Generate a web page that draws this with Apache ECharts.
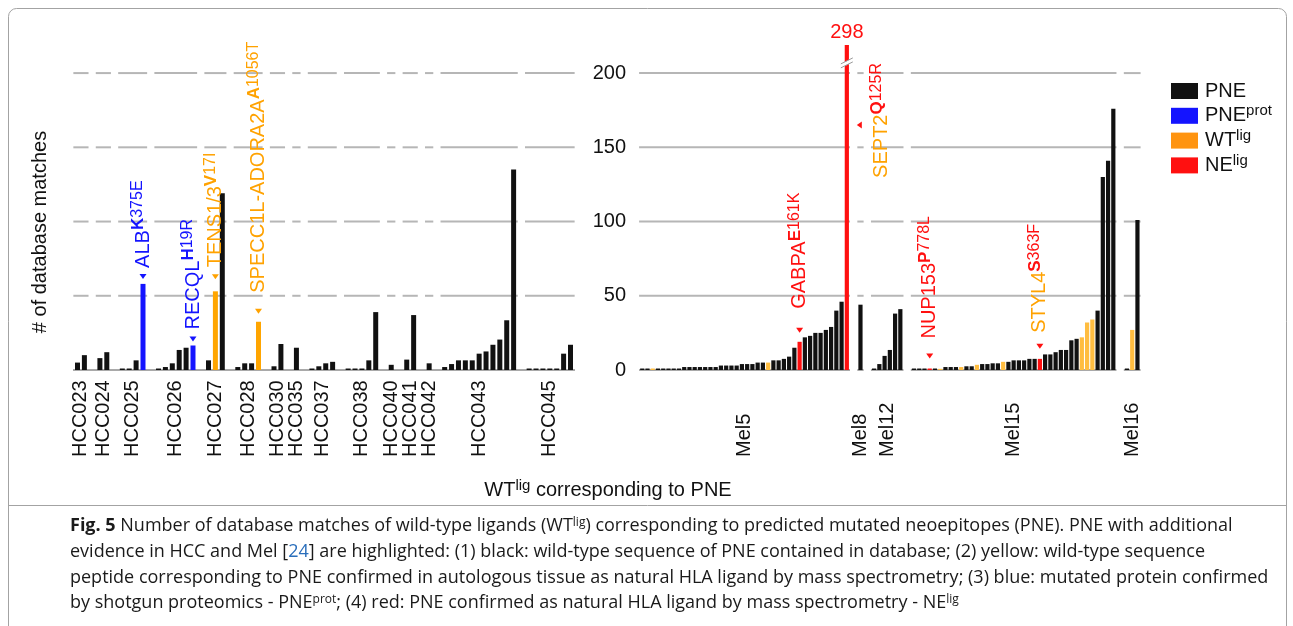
<!DOCTYPE html>
<html>
<head>
<meta charset="utf-8">
<title>Fig. 5</title>
<script src="https://cdn.jsdelivr.net/npm/echarts@6/dist/echarts.min.js"></script>
<style>
  html, body { margin: 0; padding: 0; background: #fff; }
  #chart { width: 1293px; height: 626px; }
</style>
</head>
<body>
<div id="chart"></div>
<script>
// ---- data ----
var yTicks = [0, 50, 100, 150, 200];

var hccNames = ['HCC023', 'HCC024', 'HCC025', 'HCC026', 'HCC027', 'HCC028', 'HCC030', 'HCC035',
  'HCC037', 'HCC038', 'HCC040', 'HCC041', 'HCC042', 'HCC043', 'HCC045'];
var hccValues = [
  [5, 10],
  [8, 12],
  [1, 1, 6.5, 58],
  [1, 2, 4.5, 13.5, 15, 16.5],
  [6.5, 53, 119],
  [2, 4.5, 4.5, 32.5],
  [2.5, 17.5],
  [15],
  [1, 2.5, 4.5, 5.5],
  [1, 1, 1, 6.5, 39],
  [3.5],
  [7, 37],
  [4.5],
  [2, 4, 6.5, 6.5, 6.5, 11, 12.5, 17, 20.5, 33.5, 135],
  [1, 1, 1, 1, 1, 11, 17]
];
// highlighted bars (index in group -> B: PNEprot, W: WTlig, N: NElig), the rest are PNE
var hccMarks = [{}, {}, {3: 'B'}, {5: 'B'}, {1: 'W'}, {3: 'W'}, {}, {}, {}, {}, {}, {}, {}, {}, {}];

var melNames = ['Mel5', 'Mel8', 'Mel12', 'Mel15', 'Mel16'];
var melValues = [
  [1, 1, 1, 1, 1, 1, 1, 1, 2, 2, 2, 2, 2, 2, 2, 3, 3, 3, 3, 4, 4, 4, 5, 5, 5,
    6.5, 6.5, 7.5, 9, 15, 19, 22, 23, 25, 25, 27, 29, 40, 46, 298],
  [44],
  [1, 4, 9.5, 13.5, 38, 41],
  [1, 1, 1, 1, 1, 0.8, 2, 2, 2, 2, 2.5, 2.5, 3.5, 4, 4, 4.5, 4.5, 5.5, 5.5,
    6.5, 6.5, 6.5, 7.5, 7.5, 7.5, 10.5, 10.5, 12, 13.5, 13.5, 20, 21, 22, 32, 34, 40, 130, 141, 176],
  [1, 27, 101]
];
var melMarks = [
  {2: 'W', 24: 'W', 30: 'N', 39: 'N'},
  {},
  {},
  {3: 'N', 5: 'W', 9: 'W', 12: 'W', 17: 'W', 24: 'N', 32: 'W', 33: 'W', 34: 'W'},
  {1: 'W'}
];

// labelled mutations
var notes = [
  {group: 'HCC025', index: 3, gene: 'ALB', mut: 'K375E', geneKind: 'B', mutKind: 'B'},
  {group: 'HCC026', index: 5, gene: 'RECQL', mut: 'H19R', geneKind: 'B', mutKind: 'B'},
  {group: 'HCC027', index: 1, gene: 'TENS1/3', mut: 'V17I', geneKind: 'W', mutKind: 'W'},
  {group: 'HCC028', index: 3, gene: 'SPECC1L-ADORA2A', mut: 'A1056T', geneKind: 'W', mutKind: 'W'},
  {group: 'Mel5', index: 30, gene: 'GABPA', mut: 'E161K', geneKind: 'N', mutKind: 'N'},
  {group: 'Mel5', index: 39, gene: 'SEPT2', mut: 'Q125R', geneKind: 'W', mutKind: 'N'},
  {group: 'Mel15', index: 3, gene: 'NUP153', mut: 'P778L', geneKind: 'N', mutKind: 'N'},
  {group: 'Mel15', index: 24, gene: 'STYL4', mut: 'S363F', geneKind: 'W', mutKind: 'N'}
];

var legendNames = ['PNE', 'PNEprot', 'WTlig', 'NElig'];
var legendLabels = {PNE: '{n|PNE}', PNEprot: '{n|PNE}{s|prot}', WTlig: '{n|WT}{s|lig}', NElig: '{n|NE}{s|lig}'};

// ---- style / layout ----
var FONT = '"Liberation Sans", Arial, sans-serif';
var CAPTION_FONT = '"Open Sans", "Noto Sans", sans-serif';
var yCap = 219;               // taller bars are broken here
var hccGap = 2.25, melGap = 2.6;
var textColors = {B: '#1414ff', W: '#ffa200', N: '#ff1010'};
var hccColors = {P: '#111111', B: '#1414ff', W: '#ffa500', N: '#ff1010'};
var melColors = {P: '#111111', B: '#1414ff', W: '#ffbd40', N: '#ff1010'};
var legendColors = ['#111111', '#1414ff', '#ff9410', '#ff1010'];
var gridColor = '#b6b6b6', baseColor = '#a9a9a9';
// px from bar top: where label text starts, where arrow tip sits
var noteLayout = {
  'ALB': {lift: 16, tip: 5},
  'RECQL': {lift: 16, tip: 4},
  'TENS1/3': {lift: 24, tip: 12},
  'SPECC1L-ADORA2A': {lift: 29, tip: 8},
  'GABPA': {lift: 33, tip: 9},
  'SEPT2': {side: true, dx: 35, dy: 133, ax: 10, ay: 80},
  'NUP153': {lift: 30, tip: 10},
  'STYL4': {lift: 26, tip: 10}
};

// ---- build positions ----
function place(values, gap) {
  var xs = [], cur = 0;
  values.forEach(function (g) {
    xs.push(g.map(function (v, i) { return cur + i; }));
    cur += g.length - 1 + gap;
  });
  return xs;
}
var hccX = place(hccValues, hccGap);
var melX = place(melValues, melGap);

function barData(values, xs, marks, colors) {
  var out = [];
  values.forEach(function (g, gi) {
    g.forEach(function (v, i) {
      var kind = marks[gi][i] || 'P';
      out.push({value: [xs[gi][i], Math.min(v, yCap)], itemStyle: {color: colors[kind]}});
    });
  });
  return out;
}

function centers(xs) {
  return xs.map(function (row) { return (row[0] + row[row.length - 1]) / 2; });
}
var hccCenters = centers(hccX), melCenters = centers(melX);

function segs(xs) {
  return xs.map(function (row) { return [row[0] - 0.6, row[row.length - 1] + 0.6]; });
}

function gridSeries(gi, segments, levels) {
  return {
    type: 'custom', xAxisIndex: gi, yAxisIndex: gi, z: 1, silent: true,
    data: segments,
    renderItem: function (params, api) {
      var x0 = api.value(0), x1 = api.value(1);
      return {
        type: 'group',
        children: levels.map(function (lv) {
          var a = api.coord([x0, lv]), b = api.coord([x1, lv]);
          return {
            type: 'line',
            shape: {x1: a[0], y1: a[1], x2: b[0], y2: b[1]},
            style: {stroke: lv === 0 ? baseColor : gridColor, lineWidth: 2}
          };
        })
      };
    }
  };
}

function richFor(n) {
  var gc = textColors[n.geneKind], mc = textColors[n.mutKind];
  return {
    text: '{g|' + n.gene + '}{k|' + n.mut.charAt(0) + '}{m|' + n.mut.slice(1) + '}',
    rich: {
      g: {fontSize: 20, fontFamily: FONT, fill: gc, lineHeight: 26},
      k: {fontSize: 17, fontFamily: FONT, fontWeight: 'bold', fill: mc, lineHeight: 18, verticalAlign: 'top'},
      m: {fontSize: 16, fontFamily: FONT, fill: mc, lineHeight: 18, verticalAlign: 'top'}
    }
  };
}

function noteSeries(gi, names, values, xs) {
  var list = notes.filter(function (n) { return names.indexOf(n.group) >= 0; });
  return {
    type: 'custom', xAxisIndex: gi, yAxisIndex: gi, z: 5, silent: true,
    data: list.map(function (n) {
      var g = names.indexOf(n.group);
      return [xs[g][n.index], Math.min(values[g][n.index], yCap)];
    }),
    renderItem: function (params, api) {
      var n = list[params.dataIndex];
      var lay = noteLayout[n.gene];
      var p = api.coord([api.value(0), api.value(1)]);
      var r = richFor(n);
      var arrowColor = textColors[n.mutKind];
      var arrow, tx, ty;
      if (lay.side) {
        var ax = p[0] + lay.ax, ay = p[1] + lay.ay;
        arrow = [[ax, ay], [ax + 5, ay - 3.5], [ax + 5, ay + 3.5]];
        tx = p[0] + lay.dx; ty = p[1] + lay.dy;
      } else {
        var tip = p[1] - lay.tip;
        arrow = [[p[0] - 3.5, tip - 5], [p[0] + 3.5, tip - 5], [p[0], tip]];
        tx = p[0]; ty = p[1] - lay.lift;
      }
      return {
        type: 'group',
        children: [
          {type: 'polygon', shape: {points: arrow}, style: {fill: arrowColor}},
          {
            type: 'text', x: tx, y: ty, rotation: Math.PI / 2,
            style: {text: r.text, rich: r.rich, fontSize: 20, fontFamily: FONT, align: 'left', verticalAlign: 'middle'}
          }
        ]
      };
    }
  };
}

// tall bars that run off the top: broken, with the real value written above
var tallBars = [];
melValues.forEach(function (g, gi) {
  g.forEach(function (v, i) { if (v > yCap) tallBars.push([melX[gi][i], v]); });
});

function xAxisFor(gi, min, max, ctrs, names) {
  return {
    type: 'value', gridIndex: gi, min: min, max: max,
    axisLine: {show: false}, axisTick: {show: false}, splitLine: {show: false},
    axisLabel: {
      customValues: ctrs,
      formatter: function (v) { var k = ctrs.indexOf(v); return k >= 0 ? names[k] : ''; },
      rotate: 90, align: 'left', verticalAlign: 'middle', margin: 87,
      fontSize: 20, fontFamily: FONT, color: '#111'
    }
  };
}

function captionLine(y, text) {
  return {
    type: 'text', x: 70, y: y, silent: true,
    style: {
      text: text, fontSize: 18, fontFamily: CAPTION_FONT, fill: '#1a1a1a',
      align: 'left', verticalAlign: 'middle',
      rich: {
        b: {fontSize: 18, fontFamily: CAPTION_FONT, fontWeight: 'bold', fill: '#1a1a1a'},
        s: {fontSize: 12, fontFamily: CAPTION_FONT, fill: '#1a1a1a', verticalAlign: 'top', lineHeight: 13},
        l: {fontSize: 18, fontFamily: CAPTION_FONT, fill: '#2a6ebb'}
      }
    }
  };
}

var chart = echarts.init(document.getElementById('chart'));

var option = {
  animation: false,
  grid: [
    {left: 70.6, top: 43.4, width: 506.8, height: 326.6},
    {left: 637, top: 43.4, width: 505.7, height: 326.6}
  ],
  xAxis: [
    xAxisFor(0, -1, 72.5, hccCenters, hccNames),
    xAxisFor(1, -1, 95.4, melCenters, melNames)
  ],
  yAxis: [
    {type: 'value', gridIndex: 0, min: 0, max: 220, show: false},
    {
      type: 'value', gridIndex: 1, min: 0, max: 220, interval: 50,
      axisLine: {show: false}, axisTick: {show: false}, splitLine: {show: false},
      axisLabel: {
        customValues: yTicks, margin: 11,
        fontSize: 20, fontFamily: FONT, color: '#111'
      }
    }
  ],
  legend: {
    orient: 'vertical', left: 1166, top: 76, icon: 'rect',
    itemWidth: 27, itemHeight: 16, itemGap: 2.8,
    selectedMode: false,
    data: legendNames,
    formatter: function (name) { return legendLabels[name]; },
    textStyle: {
      color: '#111', fontSize: 20, fontFamily: FONT, padding: [0, 0, 0, 2],
      rich: {
        n: {fontSize: 20, fontFamily: FONT, color: '#111', lineHeight: 24},
        s: {fontSize: 15, fontFamily: FONT, color: '#111', lineHeight: 15, verticalAlign: 'top'}
      }
    }
  },
  graphic: [
    {type: 'rect', silent: true, shape: {x: 8.5, y: 8.5, width: 1278, height: 640, r: 8},
      style: {fill: 'none', stroke: '#a3a3a3', lineWidth: 1}},
    {type: 'line', silent: true, shape: {x1: 8.5, y1: 505.5, x2: 1286.5, y2: 505.5},
      style: {stroke: '#a3a3a3', lineWidth: 1}},
    {type: 'text', x: 40, y: 232, rotation: Math.PI / 2, silent: true,
      style: {text: '# of database matches', fontSize: 20, fontFamily: FONT, fill: '#111',
        align: 'center', verticalAlign: 'middle'}},
    {type: 'text', x: 608, y: 490, silent: true,
      style: {text: '{t|WT}{s|lig}{t| corresponding to PNE}', align: 'center', verticalAlign: 'middle',
        rich: {
          t: {fontSize: 20, fontFamily: FONT, fill: '#111', lineHeight: 24},
          s: {fontSize: 15, fontFamily: FONT, fill: '#111', lineHeight: 15, verticalAlign: 'top'}
        }}},
    captionLine(526, '{b|Fig. 5} Number of database matches of wild-type ligands (WT{s|lig}) corresponding to predicted mutated neoepitopes (PNE). PNE with additional'),
    captionLine(552, 'evidence in HCC and Mel [{l|24}] are highlighted: (1) black: wild-type sequence of PNE contained in database; (2) yellow: wild-type sequence'),
    captionLine(577.5, 'peptide corresponding to PNE confirmed in autologous tissue as natural HLA ligand by mass spectrometry; (3) blue: mutated protein confirmed'),
    captionLine(603, 'by shotgun proteomics - PNE{s|prot}; (4) red: PNE confirmed as natural HLA ligand by mass spectrometry - NE{s|lig}')
  ],
  series: [
    gridSeries(0, segs(hccX), yTicks.slice(1)),
    gridSeries(0, [[-0.65, 72.15]], [0]),
    gridSeries(1, segs(melX), yTicks),
    {
      type: 'bar', xAxisIndex: 0, yAxisIndex: 0, barWidth: 5, z: 2, silent: true,
      data: barData(hccValues, hccX, hccMarks, hccColors)
    },
    {
      type: 'bar', xAxisIndex: 1, yAxisIndex: 1, barWidth: 4.2, z: 2, silent: true,
      data: barData(melValues, melX, melMarks, melColors)
    },
    noteSeries(0, hccNames, hccValues, hccX),
    noteSeries(1, melNames, melValues, melX),
    {
      type: 'custom', xAxisIndex: 1, yAxisIndex: 1, z: 4, silent: true,
      data: tallBars,
      renderItem: function (params, api) {
        var top = api.coord([api.value(0), yCap]);
        var x = top[0], y = top[1] + 17;
        return {
          type: 'group',
          children: [
            {type: 'text', x: x, y: top[1] - 2,
              style: {text: String(api.value(1)), fontSize: 20, fontFamily: FONT, fill: '#ff1010',
                align: 'center', verticalAlign: 'bottom'}},
            {type: 'polygon', shape: {points: [[x - 6, y + 2], [x + 6, y - 4], [x + 6, y], [x - 6, y + 6]]},
              style: {fill: '#fff'}},
            {type: 'line', shape: {x1: x - 6, y1: y + 2, x2: x + 6, y2: y - 4}, style: {stroke: '#999', lineWidth: 1}},
            {type: 'line', shape: {x1: x - 6, y1: y + 6, x2: x + 6, y2: y}, style: {stroke: '#999', lineWidth: 1}}
          ]
        };
      }
    }
  ].concat(legendNames.map(function (name, i) {
    return {name: name, type: 'scatter', data: [], itemStyle: {color: legendColors[i], opacity: 1}};
  }))
};

chart.setOption(option);
</script>
</body>
</html>
